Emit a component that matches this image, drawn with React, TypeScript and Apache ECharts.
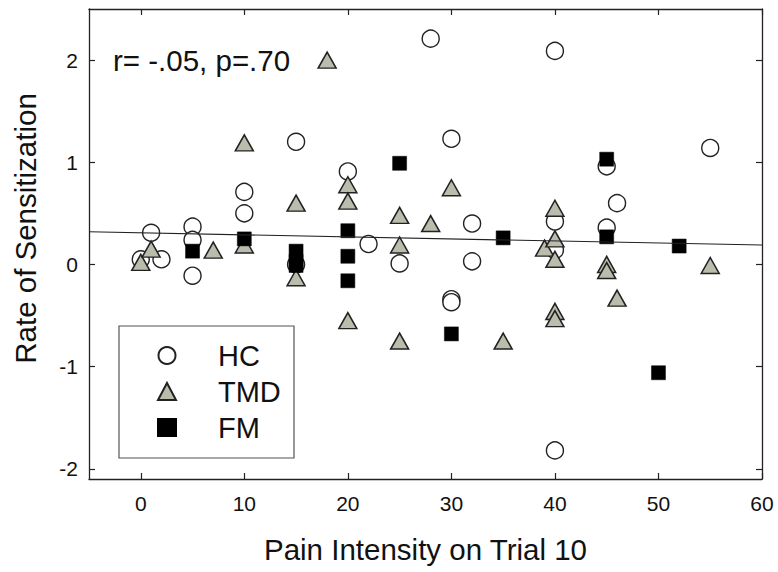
import React, { useEffect, useRef } from 'react';
import * as echarts from 'echarts';

// HC (healthy controls): [pain intensity, rate of sensitization]
const hcPoints: number[][] = [
  [0, 0.05], [1, 0.31], [2, 0.05], [5, 0.37], [5, 0.24], [5, -0.11],
  [10, 0.71], [10, 0.5], [15, 1.2], [15, 0.0], [20, 0.91], [22, 0.2],
  [25, 0.01], [28, 2.21], [30, 1.23], [30, -0.34], [30, -0.37], [32, 0.4],
  [32, 0.03], [40, 2.09], [40, 0.42], [40, 0.14], [40, -1.82], [45, 0.96],
  [45, 0.36], [46, 0.6], [55, 1.14],
];

const tmdPoints: number[][] = [
  [0, 0.02], [1, 0.15], [7, 0.14], [10, 1.19], [10, 0.19], [15, 0.6],
  [15, -0.13], [18, 2.0], [20, 0.78], [20, 0.62], [20, -0.55], [25, 0.48],
  [25, 0.19], [25, -0.75], [28, 0.4], [30, 0.75], [35, -0.75], [39, 0.16],
  [40, 0.55], [40, 0.25], [40, 0.05], [40, -0.46], [40, -0.53], [45, 0.0],
  [45, -0.06], [46, -0.33], [55, -0.01],
];

const fmPoints: number[][] = [
  [5, 0.13], [10, 0.25], [15, 0.13], [15, 0.03], [15, -0.01], [20, 0.33],
  [20, 0.08], [20, -0.16], [25, 0.99], [30, -0.68], [35, 0.26], [45, 1.03],
  [45, 0.27], [50, -1.06], [52, 0.18],
];

const seriesNames = ['HC', 'TMD', 'FM'];
const xTicks = [0, 10, 20, 30, 40, 50, 60];
const yTicks = [-2, -1, 0, 1, 2];
const xRange = [-5, 60];
const yRange = [-2.1, 2.5];
const fitIntercept = 0.31;
const fitSlope = -0.002;
const statsLabel = 'r= -.05, p=.70';
const xTitle = 'Pain Intensity on Trial 10';
const yTitle = 'Rate of Sensitization';

const FONT = '"Liberation Sans", Arial, sans-serif';
const INK = '#111';
const AXIS = '#222';

export default function App() {
  const ref = useRef<HTMLDivElement>(null);

  useEffect(() => {
    if (!ref.current) return;
    const chart = echarts.init(ref.current, undefined, { renderer: 'svg' });

    const fitLine = xRange.map((x) => [x, fitIntercept + fitSlope * x]);

    const axisLine = { show: true, onZero: false, lineStyle: { color: AXIS, width: 1.3 } };
    const tick = (vals: number[]) => ({
      show: true,
      inside: true,
      length: 6,
      customValues: vals,
      lineStyle: { color: AXIS, width: 1.2 },
    });

    const option: any = {
      animation: false,
      backgroundColor: '#fff',
      grid: { left: 89, top: 9, right: 16, bottom: 93, containLabel: false },
      xAxis: [
        {
          type: 'value',
          position: 'bottom',
          min: xRange[0],
          max: xRange[1],
          axisLine,
          axisTick: tick(xTicks),
          axisLabel: {
            customValues: xTicks,
            fontSize: 21,
            margin: 14,
            color: INK,
            fontFamily: FONT,
          },
          splitLine: { show: false },
        },
        {
          type: 'value',
          position: 'top',
          min: xRange[0],
          max: xRange[1],
          axisLine,
          axisTick: tick(xTicks),
          axisLabel: { show: false },
          splitLine: { show: false },
        },
      ],
      yAxis: [
        {
          type: 'value',
          position: 'left',
          min: yRange[0],
          max: yRange[1],
          axisLine,
          axisTick: tick(yTicks),
          axisLabel: {
            customValues: yTicks,
            fontSize: 21,
            margin: 11,
            color: INK,
            fontFamily: FONT,
          },
          splitLine: { show: false },
        },
        {
          type: 'value',
          position: 'right',
          min: yRange[0],
          max: yRange[1],
          axisLine,
          axisTick: tick(yTicks),
          axisLabel: { show: false },
          splitLine: { show: false },
        },
      ],
      legend: {
        data: seriesNames,
        orient: 'vertical',
        left: 157,
        top: 341,
        padding: 0,
        itemGap: 7,
        itemWidth: 18,
        itemHeight: 17,
        textStyle: {
          fontSize: 29,
          lineHeight: 29,
          color: INK,
          fontFamily: FONT,
          padding: [0, 0, 0, 37],
        },
      },
      graphic: [
        {
          type: 'rect',
          shape: { x: 119, y: 326, width: 175, height: 132 },
          style: { fill: 'none', stroke: '#555', lineWidth: 1.2 },
          z: 1,
        },
        {
          type: 'text',
          x: 113,
          y: 60,
          style: {
            text: statsLabel,
            fontSize: 29.5,
            fontFamily: FONT,
            fill: INK,
            textAlign: 'left',
            textVerticalAlign: 'middle',
          },
        },
        {
          type: 'text',
          x: 425.5,
          y: 549,
          style: {
            text: xTitle,
            fontSize: 29.5,
            fontFamily: FONT,
            fill: INK,
            textAlign: 'center',
            textVerticalAlign: 'middle',
          },
        },
        {
          type: 'text',
          x: 25,
          y: 228.5,
          rotation: Math.PI / 2,
          style: {
            text: yTitle,
            fontSize: 29.5,
            fontFamily: FONT,
            fill: INK,
            textAlign: 'center',
            textVerticalAlign: 'middle',
          },
        },
      ],
      series: [
        {
          name: seriesNames[0],
          type: 'scatter',
          data: hcPoints,
          symbol: 'circle',
          symbolSize: 17,
          itemStyle: { color: '#fff', borderColor: AXIS, borderWidth: 1.4, opacity: 1 },
          z: 2,
        },
        {
          name: seriesNames[1],
          type: 'scatter',
          data: tmdPoints,
          symbol: 'triangle',
          symbolSize: [18, 16],
          itemStyle: { color: '#bbbcab', borderColor: '#222', borderWidth: 1.5, opacity: 1 },
          z: 3,
        },
        {
          name: seriesNames[2],
          type: 'scatter',
          data: fmPoints,
          symbol: 'rect',
          symbolSize: 14,
          itemStyle: { color: '#000', borderColor: '#000', borderWidth: 0.5, opacity: 1 },
          z: 4,
        },
        {
          name: 'fit',
          type: 'line',
          data: fitLine,
          showSymbol: false,
          symbol: 'none',
          lineStyle: { color: '#222', width: 1.2 },
          silent: true,
          z: 5,
        },
      ],
    };

    chart.setOption(option);
    return () => chart.dispose();
  }, []);

  return (
    <div
      ref={ref}
      style={{ position: 'fixed', left: 0, top: 0, width: 778, height: 572, background: '#fff' }}
    />
  );
}
